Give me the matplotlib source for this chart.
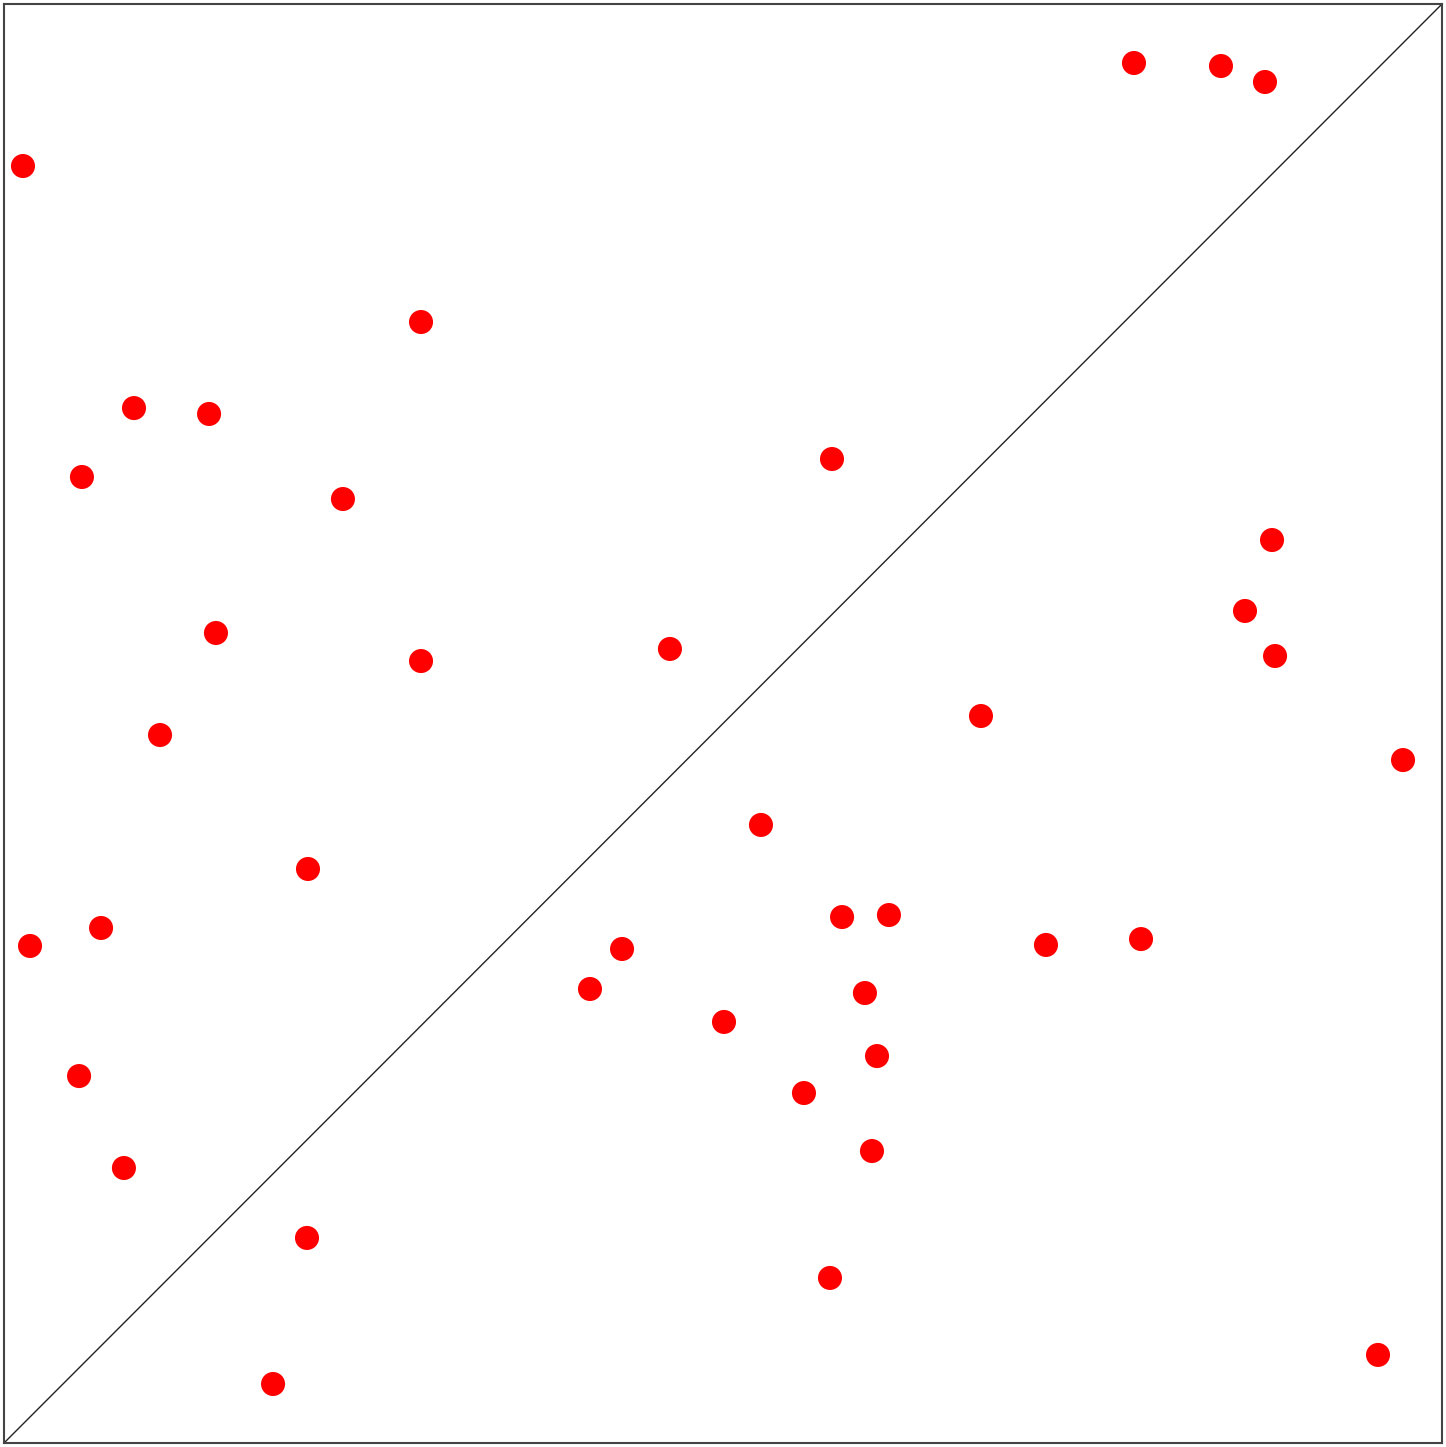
import numpy as np
import matplotlib
matplotlib.use('Agg')
import matplotlib.pyplot as plt

# titik merah (skala 0-100)
x_vals = [78.58, 84.63, 87.69, 1.32, 29.00, 9.04, 14.26, 57.58, 5.42, 23.57,
          88.18, 86.30, 14.74, 88.39, 46.31, 29.00, 67.94, 10.85, 97.29, 52.64,
          21.14, 58.28, 61.54, 6.75, 1.81, 42.98, 72.46, 79.07, 40.75, 59.87,
          50.07, 60.71, 5.22, 55.63, 60.36, 8.34, 21.07, 57.44, 95.55, 18.71]
y_vals = [95.90, 95.69, 94.58, 88.74, 77.90, 71.92, 71.51, 68.38, 67.13, 65.60,
          62.75, 57.82, 56.29, 54.69, 55.18, 54.34, 50.52, 49.20, 47.46, 42.95,
          39.89, 36.55, 36.69, 35.79, 34.54, 34.33, 34.61, 35.02, 31.55, 31.27,
          29.26, 26.89, 25.50, 24.32, 20.29, 19.11, 14.25, 11.47, 6.12, 4.10]

fig = plt.figure(figsize=(14.46, 14.47), dpi=100)
ax = fig.add_axes([4 / 1446, 4 / 1447, 1438 / 1446, 1439 / 1447])

# garis diagonal y = x
ax.plot([0, 100], [0, 100], color='#222222', linewidth=1.0, zorder=1)
ax.scatter(x_vals, y_vals, s=300, color='red', edgecolors='none', zorder=2)

ax.set_xlim(0, 100)
ax.set_ylim(0, 100)
ax.set_xticks([])
ax.set_yticks([])
for sp in ax.spines.values():
    sp.set_color('#444444')
    sp.set_linewidth(1.5)

fig.savefig('out.png', dpi=100)
